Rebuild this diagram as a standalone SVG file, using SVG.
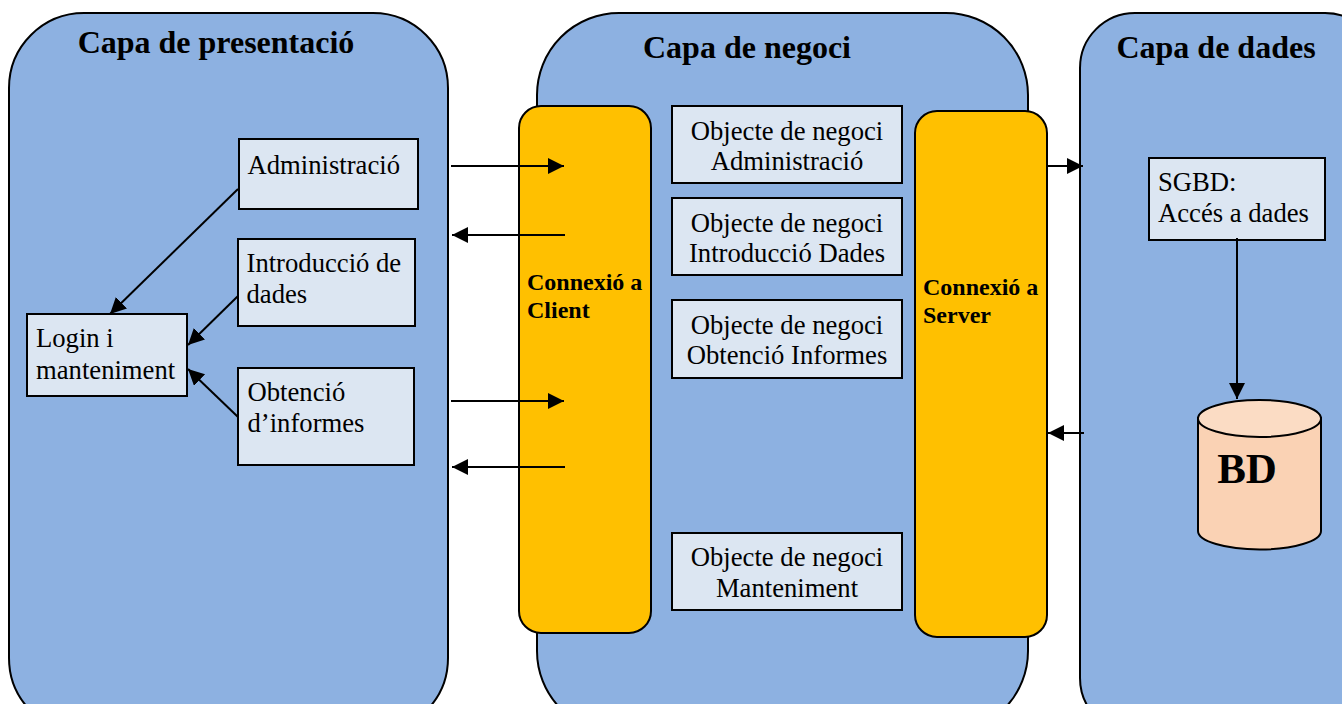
<svg xmlns="http://www.w3.org/2000/svg" width="1342" height="704" viewBox="0 0 1342 704">
<style>
text{font-family:"Liberation Serif","Times New Roman",serif;fill:#000}
.layer{fill:#8db1e1;stroke:#000;stroke-width:2}
.box{fill:#dce6f2;stroke:#000;stroke-width:2}
.conn{fill:#ffc000;stroke:#000;stroke-width:2}
.t{font-size:26.670px}
.c{text-anchor:middle}
.h{font-size:32px;font-weight:bold}
.b{font-size:24px;font-weight:bold}
.a{stroke:#000;stroke-width:2;fill:none;marker-end:url(#ah)}
</style>
<defs><marker id="ah" markerUnits="userSpaceOnUse" markerWidth="18" markerHeight="18" refX="16" refY="8" orient="auto"><path d="M0 0L16 8L0 16Z" fill="#000"/></marker></defs>
<g id="capa-presentacio"><rect class="layer" x="9" y="13" width="439" height="720" rx="75"/><text class="h c" x="216" y="53">Capa de presentació</text></g>
<g id="capa-negoci"><rect class="layer" x="537" y="13" width="491" height="720" rx="82"/><text class="h c" x="747" y="58">Capa de negoci</text></g>
<g id="capa-dades"><rect class="layer" x="1080" y="13" width="300" height="720" rx="55"/><text class="h c" x="1216" y="58">Capa de dades</text></g>
<g id="administracio"><rect class="box" x="239" y="139" width="179" height="70"/><text class="t" x="247.500" y="174">Administració</text></g>
<g id="introduccio"><rect class="box" x="238" y="239" width="177" height="87"/><text class="t" x="246.500" y="272">Introducció de</text><text class="t" x="246.500" y="303">dades</text></g>
<g id="obtencio"><rect class="box" x="238" y="368" width="176" height="97"/><text class="t" x="247.500" y="401">Obtenció</text><text class="t" x="247.500" y="432">d’informes</text></g>
<g id="login"><rect class="box" x="27" y="314" width="160" height="82"/><text class="t" x="36" y="347">Login i</text><text class="t" x="36" y="379">manteniment</text></g>
<g id="connexio-client"><rect class="conn" x="519" y="106" width="132" height="527" rx="22"/><text class="b" x="527" y="290">Connexió a</text><text class="b" x="527" y="318">Client</text></g>
<g id="connexio-server"><rect class="conn" x="915" y="111" width="132" height="526" rx="22"/><text class="b" x="923" y="295">Connexió a</text><text class="b" x="923" y="323">Server</text></g>
<g id="on-admin"><rect class="box" x="672" y="106" width="230" height="77"/><text class="t c" x="787" y="140">Objecte de negoci</text><text class="t c" x="787" y="170">Administració</text></g>
<g id="on-intro"><rect class="box" x="672" y="198" width="230" height="77"/><text class="t c" x="787" y="232">Objecte de negoci</text><text class="t c" x="787" y="262">Introducció Dades</text></g>
<g id="on-informes"><rect class="box" x="672" y="300" width="230" height="78"/><text class="t c" x="787" y="334">Objecte de negoci</text><text class="t c" x="787" y="364">Obtenció Informes</text></g>
<g id="on-manteniment"><rect class="box" x="672" y="533" width="230" height="77"/><text class="t c" x="787" y="566">Objecte de negoci</text><text class="t c" x="787" y="597">Manteniment</text></g>
<g id="sgbd"><rect class="box" x="1149" y="158" width="176" height="82"/><text class="t" x="1158" y="191">SGBD:</text><text class="t" x="1158" y="222">Accés a dades</text></g>
<g id="bd"><path d="M1198 418V531A61.500 18.500 0 0 0 1321 531V418Z" fill="#fad2b4" stroke="#000" stroke-width="2"/><ellipse cx="1259.500" cy="418.500" rx="61.500" ry="18.500" fill="#fbdcc4" stroke="#000" stroke-width="2"/><text x="1247" y="483" text-anchor="middle" font-size="43" font-weight="bold">BD</text></g>
<g id="connectors">
<line class="a" x1="238" y1="189" x2="110" y2="314"/>
<line class="a" x1="238" y1="296" x2="188" y2="345"/>
<line class="a" x1="238" y1="417" x2="188" y2="369"/>
<line class="a" x1="451" y1="166" x2="564" y2="166"/>
<line class="a" x1="565" y1="235" x2="452" y2="235"/>
<line class="a" x1="451" y1="401" x2="564" y2="401"/>
<line class="a" x1="565" y1="467" x2="452" y2="467"/>
<line class="a" x1="1048" y1="166" x2="1083" y2="166"/>
<line class="a" x1="1084" y1="433" x2="1048" y2="433"/>
<line class="a" x1="1237" y1="238" x2="1237" y2="399"/>
</g>
</svg>
